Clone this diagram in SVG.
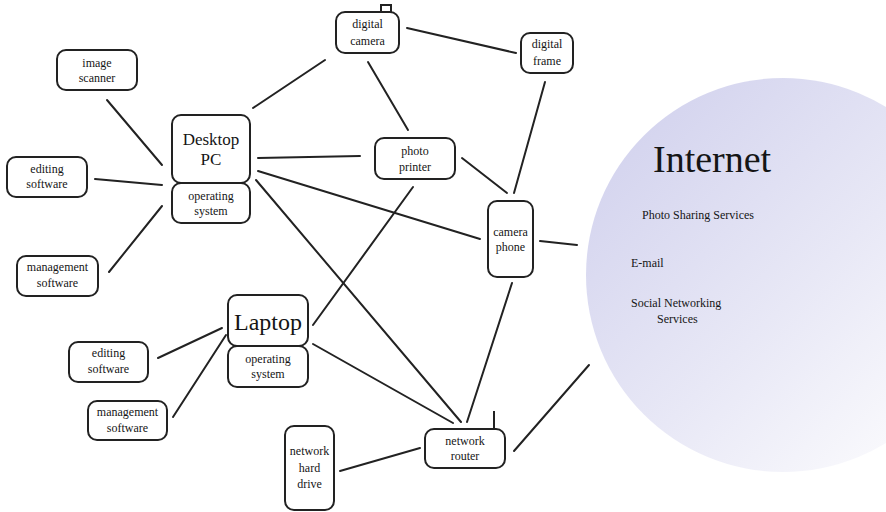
<svg xmlns="http://www.w3.org/2000/svg" width="886" height="512" viewBox="0 0 886 512">
<style>
.box{fill:#fff;stroke:#222;stroke-width:2}
.t{font-family:"Liberation Serif","Times New Roman",serif;font-size:12px;fill:#151515;text-anchor:middle}
.big{font-size:17px}
.lap{font-size:24px}
.inet{font-family:"Liberation Serif","Times New Roman",serif;fill:#151515}
#connectors line{stroke:#222;stroke-width:2;stroke-linecap:round}
</style>
<defs>
<linearGradient id="g" x1="0.1" y1="0.1" x2="0.9" y2="0.9">
<stop offset="0" stop-color="#d3d3ee"/>
<stop offset="0.55" stop-color="#e8e8f6"/>
<stop offset="1" stop-color="#fbfbfd"/>
</linearGradient>
</defs>
<rect width="886" height="512" fill="#fff"/>
<g id="internet">
<circle cx="783" cy="275" r="197" fill="url(#g)"/>
<text class="inet" x="653" y="172" font-size="38">Internet</text>
<text class="inet" x="642" y="219" font-size="12">Photo Sharing Services</text>
<text class="inet" x="631" y="267" font-size="12">E-mail</text>
<text class="inet" x="631" y="307" font-size="12">Social Networking</text>
<text class="inet" x="657" y="323" font-size="12">Services</text>
</g>
<g id="connectors">
<line x1="253" y1="108" x2="325" y2="60"/>
<line x1="368" y1="62" x2="408" y2="130"/>
<line x1="407" y1="28" x2="516" y2="53"/>
<line x1="545" y1="82" x2="514" y2="193"/>
<line x1="107" y1="100" x2="162" y2="165"/>
<line x1="95" y1="179" x2="162" y2="185"/>
<line x1="109" y1="272" x2="162" y2="206"/>
<line x1="258" y1="158" x2="360" y2="156"/>
<line x1="258" y1="171" x2="480" y2="239"/>
<line x1="256" y1="180" x2="461" y2="422"/>
<line x1="462" y1="158" x2="507" y2="193"/>
<line x1="413" y1="187" x2="313" y2="325"/>
<line x1="540" y1="241" x2="577" y2="245"/>
<line x1="512" y1="283" x2="467" y2="422"/>
<line x1="158" y1="358" x2="222" y2="328"/>
<line x1="173" y1="417" x2="226" y2="335"/>
<line x1="313" y1="344" x2="453" y2="423"/>
<line x1="340" y1="471" x2="420" y2="448"/>
<line x1="514" y1="451" x2="589" y2="365"/>
</g>
<g id="digital-camera">
<rect class="box" x="381" y="5" width="10" height="8"/>
<rect class="box" x="336" y="12" width="63" height="41" rx="9"/>
<text class="t" x="367.5" y="28">digital</text>
<text class="t" x="367.5" y="45">camera</text>
</g>
<g id="digital-frame">
<rect class="box" x="521" y="33" width="52" height="40" rx="9"/>
<text class="t" x="547" y="48">digital</text>
<text class="t" x="547" y="65">frame</text>
</g>
<g id="image-scanner">
<rect class="box" x="57" y="50" width="80" height="40" rx="9"/>
<text class="t" x="97" y="67">image</text>
<text class="t" x="97" y="82">scanner</text>
</g>
<g id="desktop-pc">
<rect class="box" x="172" y="115" width="78" height="68" rx="9"/>
<text class="t big" x="211" y="145">Desktop</text>
<text class="t big" x="211" y="165">PC</text>
</g>
<g id="desktop-os">
<rect class="box" x="172" y="183" width="78" height="40" rx="9"/>
<text class="t" x="211" y="200">operating</text>
<text class="t" x="211" y="215">system</text>
</g>
<g id="desktop-editing">
<rect class="box" x="7" y="157" width="80" height="40" rx="9"/>
<text class="t" x="47" y="173">editing</text>
<text class="t" x="47" y="188">software</text>
</g>
<g id="desktop-management">
<rect class="box" x="17" y="256" width="81" height="40" rx="9"/>
<text class="t" x="57.5" y="271">management</text>
<text class="t" x="57.5" y="287">software</text>
</g>
<g id="photo-printer">
<rect class="box" x="375" y="138" width="80" height="41" rx="9"/>
<text class="t" x="415" y="155">photo</text>
<text class="t" x="415" y="171">printer</text>
</g>
<g id="camera-phone">
<rect class="box" x="488" y="201" width="45" height="76" rx="9"/>
<text class="t" x="510.5" y="236">camera</text>
<text class="t" x="510.5" y="251">phone</text>
</g>
<g id="laptop">
<rect class="box" x="228" y="295" width="80" height="51" rx="9"/>
<text class="t lap" x="268" y="330">Laptop</text>
</g>
<g id="laptop-os">
<rect class="box" x="228" y="346" width="80" height="41" rx="9"/>
<text class="t" x="268" y="363">operating</text>
<text class="t" x="268" y="378">system</text>
</g>
<g id="laptop-editing">
<rect class="box" x="69" y="342" width="79" height="40" rx="9"/>
<text class="t" x="108.5" y="357">editing</text>
<text class="t" x="108.5" y="373">software</text>
</g>
<g id="laptop-management">
<rect class="box" x="88" y="401" width="79" height="39" rx="9"/>
<text class="t" x="127.5" y="416">management</text>
<text class="t" x="127.5" y="432">software</text>
</g>
<g id="network-hard-drive">
<rect class="box" x="285" y="426" width="49" height="84" rx="9"/>
<text class="t" x="309.5" y="455">network</text>
<text class="t" x="309.5" y="472">hard</text>
<text class="t" x="309.5" y="488">drive</text>
</g>
<g id="network-router">
<line x1="494" y1="411" x2="494" y2="429" stroke="#222" stroke-width="2"/>
<rect class="box" x="425" y="429" width="80" height="39" rx="9"/>
<text class="t" x="465" y="445">network</text>
<text class="t" x="465" y="460">router</text>
</g>
</svg>
